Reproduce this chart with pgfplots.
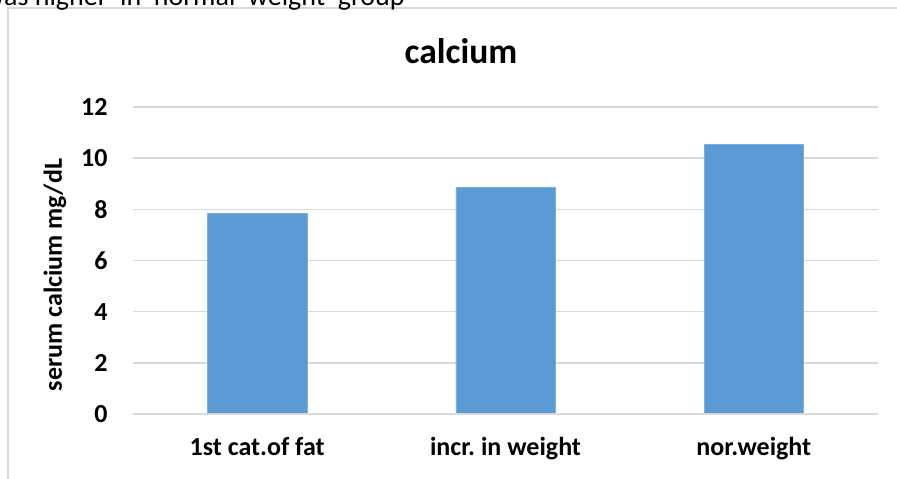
\documentclass[border=0pt]{standalone}
\usepackage{pgfplots}
\pgfplotsset{compat=1.18}
\usepackage{fontspec}
\setmainfont{Carlito}
\frenchspacing
\definecolor{barblue}{RGB}{91,155,213}
\definecolor{gridgray}{RGB}{217,217,217}
\begin{document}
\begin{tikzpicture}
% page extent
\path[use as bounding box] (0,0) rectangle (448.5pt,239pt);
% chart frame
\draw[gridgray, line width=0.75pt] (4pt,-2pt) -- (4pt,235pt) -- (452pt,235pt);
% running text above the chart
\node[anchor=base east, inner sep=0pt, font=\fontsize{14}{16}\selectfont] at (202.5pt,236.5pt) {was higher\ \ in\ \ normal\ \ weight\ \ group};
% title
\node[anchor=base, inner sep=0pt, font=\fontsize{17.8}{20}\selectfont\bfseries] at (230.5pt,207.5pt) {calcium};
% y axis title
\node[rotate=90, inner sep=0pt, font=\fontsize{13}{15}\selectfont\bfseries] at (27.5pt,101.5pt) {serum calcium mg/dL};
\begin{axis}[
  at={(66.5pt,32pt)}, anchor=south west,
  scale only axis, width=372.5pt, height=153.5pt,
  ymin=0, ymax=12, ytick={0,2,...,12},
  xmin=-0.5, xmax=2.5, xtick=data,
  xticklabels={1st cat.of fat, incr. in weight, nor.weight},
  axis line style={draw=none},
  major tick length=0pt,
  ymajorgrids, grid style={gridgray, line width=0.75pt},
  /pgf/number format/assume math mode=true,
  tick label style={font=\fontsize{13}{15}\selectfont\bfseries, inner sep=0pt},
  yticklabel style={anchor=east, xshift=-12.5pt},
  xticklabel style={anchor=north, yshift=-11.5pt},
  ybar, bar width=0.4, bar shift=0pt,
  clip=false,
]
\addplot[fill=barblue, draw=barblue!80!white, line width=0.3pt] coordinates {(0,7.84) (1,8.87) (2,10.53)};
\draw[gridgray, line width=0.75pt] (axis cs:-0.5,0) -- (axis cs:2.5,0);
\end{axis}
\end{tikzpicture}
\end{document}
